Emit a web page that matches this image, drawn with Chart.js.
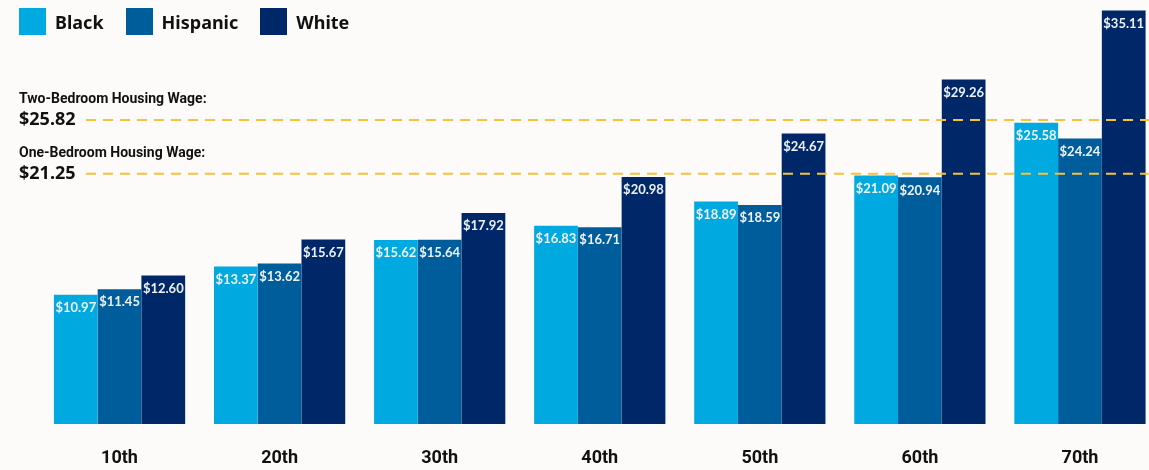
<!DOCTYPE html>
<html>
<head>
<meta charset="utf-8">
<script src="https://cdn.jsdelivr.net/npm/chart.js@4"></script>
<style>
  html, body { margin: 0; padding: 0; background: #fcfbf9; overflow: hidden; }
  #wrap { position: relative; width: 1160px; height: 470px; }
  #legend { position: absolute; left: 19px; top: 8px; display: flex; font: bold 18px "Noto Sans", sans-serif; color: #111; }
  #legend .item { display: flex; align-items: center; margin-right: 22px; }
  #legend .box { width: 27px; height: 27px; margin-right: 9px; }
</style>
</head>
<body>
<div id="wrap">
  <canvas id="wageChart" width="1160" height="470"></canvas>
  <div id="legend"></div>
</div>
<script>
// percentile wage by race, with housing wage reference lines

const percentiles = ["10th", "20th", "30th", "40th", "50th", "60th", "70th"];
const blackWages    = [10.97, 13.37, 15.62, 16.83, 18.89, 21.09, 25.58];
const hispanicWages = [11.45, 13.62, 15.64, 16.71, 18.59, 20.94, 24.24];
const whiteWages    = [12.60, 15.67, 17.92, 20.98, 24.67, 29.26, 35.11];

const housingLabels = ["Two-Bedroom Housing Wage:", "One-Bedroom Housing Wage:"];
const housingWages  = [25.82, 21.25];

const seriesNames  = ["Black", "Hispanic", "White"];
const seriesColors = ["#00a9e0", "#005d9c", "#002868"];

const FONT_COND = '"Roboto", sans-serif';

// legend (html)
const legendEl = document.getElementById("legend");
seriesNames.forEach((name, i) => {
  const item = document.createElement("div");
  item.className = "item";
  item.innerHTML = `<span class="box" style="background:${seriesColors[i]}"></span><span>${name}</span>`;
  legendEl.appendChild(item);
});

// white $ labels inside top of bars
const barLabels = {
  id: "barLabels",
  afterDatasetsDraw(chart) {
    const ctx = chart.ctx;
    ctx.save();
    ctx.font = "bold 13px 'Lato', sans-serif";
    ctx.fillStyle = "#eef2f7";
    ctx.textAlign = "center";
    ctx.textBaseline = "middle";
    chart.data.datasets.forEach((ds, i) => {
      chart.getDatasetMeta(i).data.forEach((bar, j) => {
        ctx.fillText("$" + ds.data[j].toFixed(2), bar.x, bar.y + 13);
      });
    });
    ctx.restore();
  }
};

// dashed housing wage lines + left labels
const housingLines = {
  id: "housingLines",
  afterDatasetsDraw(chart) {
    const ctx = chart.ctx;
    const y = chart.scales.y;
    ctx.save();
    housingWages.forEach((v, i) => {
      const py = y.getPixelForValue(v);
      ctx.strokeStyle = "#f7c234";
      ctx.lineWidth = 2;
      ctx.setLineDash([10, 7]);
      ctx.beginPath();
      ctx.moveTo(86, py);
      ctx.lineTo(chart.width, py);
      ctx.stroke();

      ctx.fillStyle = "#111";
      ctx.textAlign = "left";
      ctx.textBaseline = "middle";
      ctx.font = "bold 14px " + FONT_COND;
      ctx.fillText(housingLabels[i], 19, py - 20);
      ctx.font = "bold 18px 'Noto Sans', sans-serif";
      ctx.fillText("$" + v.toFixed(2), 19, py);
    });
    ctx.restore();
  }
};

const ctx = document.getElementById("wageChart").getContext("2d");
new Chart(ctx, {
  type: "bar",
  data: {
    labels: percentiles,
    datasets: [blackWages, hispanicWages, whiteWages].map((d, i) => ({
      label: seriesNames[i],
      data: d,
      backgroundColor: seriesColors[i],
      borderWidth: 0,
      barPercentage: 1,
      categoryPercentage: 0.82
    }))
  },
  options: {
    responsive: false,
    animation: false,
    layout: { padding: { left: 39.5, right: 0, top: 0, bottom: 0 } },
    plugins: {
      legend: { display: false },
      tooltip: { enabled: false }
    },
    scales: {
      x: {
        grid: { display: false, drawTicks: false },
        border: { display: false },
        ticks: {
          color: "#111",
          font: { family: FONT_COND, size: 18, weight: "bold" },
          padding: 24
        },
        afterFit: (s) => { s.height = 46; }
      },
      y: {
        display: false,
        min: 0,
        max: 36
      }
    }
  },
  plugins: [housingLines, barLabels]
});
</script>
</body>
</html>
